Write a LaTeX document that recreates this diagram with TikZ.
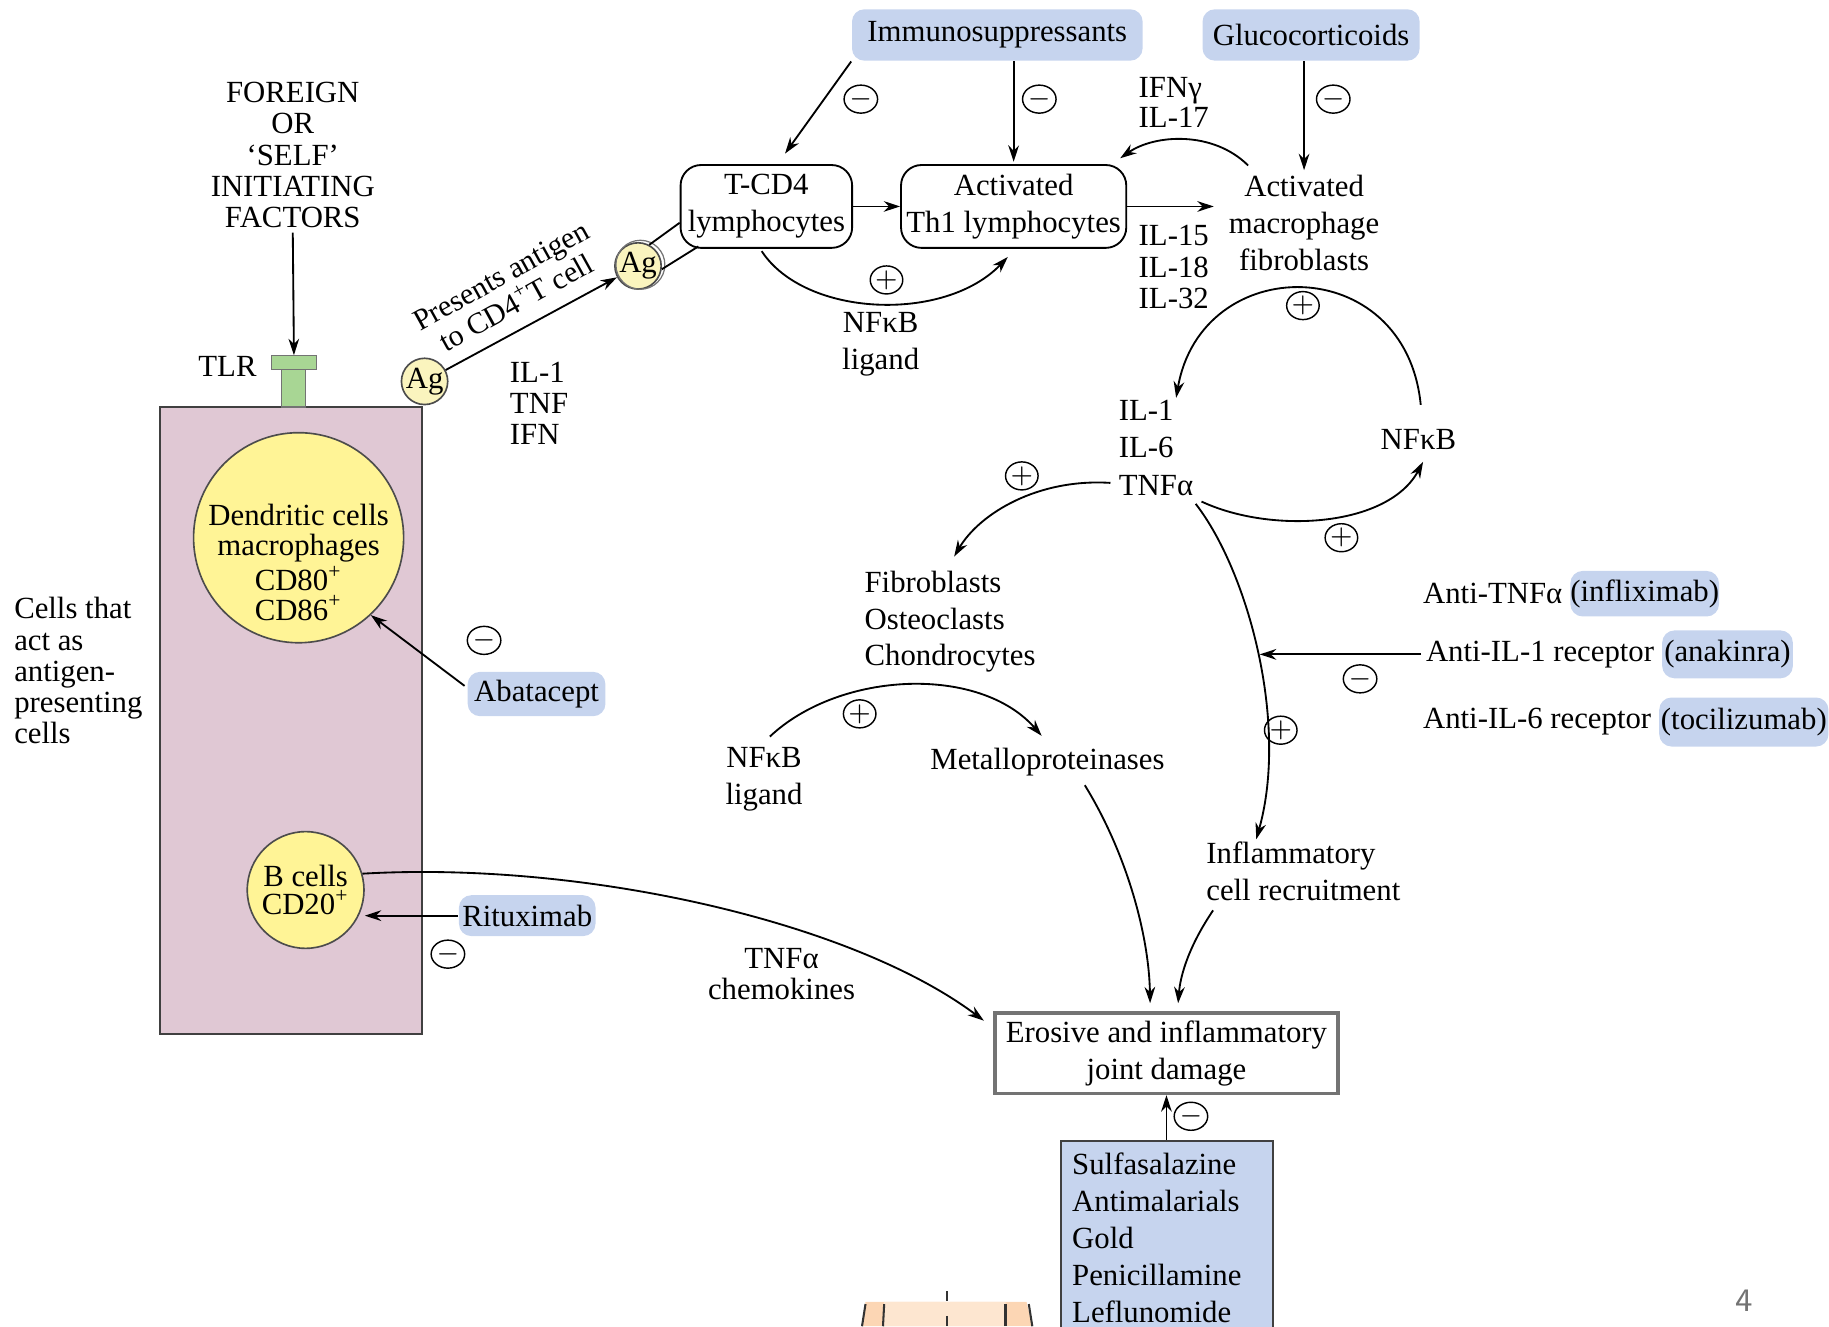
\documentclass[tikz,border=0pt]{standalone}
\usepackage{fontspec}
\setmainfont{Liberation Serif}
\usetikzlibrary{arrows.meta,calc,shapes.geometric}
\definecolor{drugblue}{RGB}{198,212,238}
\definecolor{apcpink}{RGB}{224,200,212}
\definecolor{cellyellow}{RGB}{255,244,150}
\definecolor{agyellow}{RGB}{250,244,190}
\definecolor{tlrgreen}{RGB}{168,214,148}
\definecolor{peach}{RGB}{252,214,180}
\definecolor{peachlt}{RGB}{253,230,208}
\begin{document}
\begin{tikzpicture}[x=0.01cm,y=-0.01cm,
  every node/.style={font=\fontsize{7.5}{9}\selectfont, inner sep=1pt},
  arr/.style={-{Stealth[length=4pt,width=2.6pt]}, line width=0.45pt},
  ln/.style={line width=0.45pt},
  sgn/.style={ellipse,draw,line width=0.35pt,inner sep=0pt,minimum width=0.2cm,minimum height=0.24cm,font=\fontsize{6}{6}\selectfont},
  drug/.style={fill=drugblue,rounded corners=3pt,inner sep=0pt},
  cellbox/.style={draw,rounded corners=5pt,align=center,line width=0.45pt},
  tight/.style={font=\fontsize{7.5}{7.6}\selectfont},
]
\useasboundingbox (0,0) rectangle (1568,1137);

% ---------- top row ----------
\node[drug,minimum width=2.49cm,minimum height=0.44cm] (imm) at (855,30) {Immunosuppressants};
\node[drug,minimum width=1.86cm,minimum height=0.44cm] (glu) at (1124,30) {Glucocorticoids};
\node[cellbox,minimum width=1.47cm,minimum height=0.71cm] (tcd4) at (657,177) {T-CD4\\lymphocytes};
\node[cellbox,minimum width=1.93cm,minimum height=0.71cm] (th1) at (869,177) {Activated\\Th1 lymphocytes};
\node[align=center] (mac) at (1118,191) {Activated\\macrophage\\fibroblasts};
\node[align=left,anchor=west,font=\fontsize{7.5}{7.2}\selectfont] (ifn) at (972,88) {IFNγ\\IL-17};
\node[align=left,anchor=west,font=\fontsize{7.5}{7.7}\selectfont] (il15) at (972,229) {IL-15\\IL-18\\IL-32};
\node[align=center] (nfl1) at (755,295) {NFκB\\ligand};

% ---------- APC column ----------
\node[align=center,tight] (foreign) at (251,133) {FOREIGN\\OR\\‘SELF’\\INITIATING\\FACTORS};
\node (tlrlbl) at (195,314) {TLR};
\node[draw=black!75,fill=apcpink,minimum width=2.25cm,minimum height=5.37cm,line width=0.5pt] (apc) at (249.5,617.5) {};
\draw[fill=tlrgreen,draw=black!55,line width=0.3pt] (241,317) rectangle (262,349);
\node[fill=tlrgreen,draw=black!55,line width=0.3pt,minimum width=0.38cm,minimum height=0.12cm,inner sep=0pt] (tlr) at (252,311) {};
\node[circle,draw=black!70,fill=cellyellow,minimum size=1.8cm,inner sep=0pt] (dc) at (256,461) {};
\node[align=center,font=\fontsize{7.5}{7.3}\selectfont] (dctext) at (256,482) {Dendritic cells\\macrophages\\CD80\textsuperscript{+}\\CD86\textsuperscript{+}};
\node[circle,draw=black!70,fill=cellyellow,minimum size=1.0cm,inner sep=0pt,align=center,font=\fontsize{7.5}{6.9}\selectfont] (bc) at (262,763) {B cells\\CD20\textsuperscript{+}};
\node[align=left,anchor=west,tight] (cells) at (8,575) {Cells that\\act as\\antigen-\\presenting\\cells};
\node[drug,minimum width=1.18cm,minimum height=0.38cm] (abat) at (460,595) {Abatacept};
\node[drug,minimum width=1.17cm,minimum height=0.35cm] (ritu) at (452,785) {Rituximab};

% ---------- antigen presentation ----------
\node[circle,draw=black!70,fill=agyellow,minimum size=0.37cm,inner sep=0pt] (ag1) at (364,327) {Ag};
\node[circle,draw=black!70,fill=agyellow,minimum size=0.37cm,inner sep=0pt] (ag2) at (547,228) {Ag};
\draw[black!55,line width=0.3pt] ($(ag2.center)+(2,-1)$) circle[radius=21];
\node[rotate=29,align=center,inner sep=0pt,font=\fontsize{7.3}{7.6}\selectfont] (pres) at (436,248) {Presents antigen\\to CD4\textsuperscript{+}T cell};
\node[align=left,anchor=west,font=\fontsize{7.5}{7.5}\selectfont] (cyt1) at (433,346) {IL-1\\TNF\\IFN};

% ---------- middle / right ----------
\node[anchor=west] (il1) at (955,352) {IL-1};
\node[anchor=west] (il6) at (955,384) {IL-6};
\node[anchor=west] (tnfa) at (955,416) {TNFα};
\node (nfkb) at (1216,377) {NFκB};
\node[align=left,anchor=west] (fib) at (737,533) {Fibroblasts\\Osteoclasts\\Chondrocytes};
\node[align=center] (nfl2) at (655,668) {NFκB\\ligand};
\node (mmp) at (898,653) {Metalloproteinases};
\node[align=left,anchor=west] (infl) at (1030,747) {Inflammatory\\cell recruitment};
\node[align=center,font=\fontsize{7.5}{7.7}\selectfont] (tnfc) at (670,835) {TNFα\\chemokines};

\node[drug,minimum width=1.24cm,minimum height=0.39cm] (inf) at (1410,509) {(infliximab)};
\node[anchor=east] (atnf) at ($(inf.west)+(-2,0)$) {Anti-TNFα};
\node[drug,minimum width=1.12cm,minimum height=0.41cm] (ana) at (1481,561) {(anakinra)};
\node[anchor=east] (ail1) at ($(ana.west)+(-2,0)$) {Anti-IL-1 receptor};
\node[drug,minimum width=1.45cm,minimum height=0.42cm] (toc) at (1495,619) {(tocilizumab)};
\node[anchor=east] (ail6) at ($(toc.west)+(-2,0)$) {Anti-IL-6 receptor};
\coordinate (hit) at (1080,561);

% ---------- bottom ----------
\node[draw=black!55,line width=0.8pt,minimum width=2.94cm,minimum height=0.69cm,align=center] (jd) at (1000,903) {Erosive and inflammatory\\joint damage};
\fill[peach] (739,1137) -- (742,1116) -- (880,1116) -- (885,1137) -- cycle;
\fill[peachlt] (757,1137) -- (758,1116) -- (862,1116) -- (863,1137) -- cycle;
\draw[black!80,line width=0.5pt] (739,1137) -- (742,1118);
\draw[black!80,line width=0.5pt] (757,1137) -- (758,1118);
\draw[black!80,line width=0.5pt] (862,1137) -- (862,1118);
\draw[black!80,line width=0.5pt] (885,1137) -- (882,1118);
\draw[black!80,line width=0.5pt] (812,1107) -- (812,1115) (812,1128) -- (812,1137);
\node[fill=drugblue,draw=black!75,line width=0.5pt,anchor=north west,minimum width=1.81cm,minimum height=1.75cm,inner sep=0pt] (drugs) at (909,977) {};
\node[anchor=north west,align=left] (druglist) at (915,984) {Sulfasalazine\\Antimalarials\\Gold\\Penicillamine\\Leflunomide};
\node[font=\fontsize{8}{8}\selectfont\sffamily,text=black!55] (pg) at (1495,1115) {4};

% ---------- signs ----------
\node[sgn] (m1) at (738,85) {$-$};
\node[sgn] (m2) at (891,85) {$-$};
\node[sgn] (m3) at (1143,85) {$-$};
\node[sgn] (m4) at (415,549) {$-$};
\node[sgn] (m5) at (384,818) {$-$};
\node[sgn] (m6) at (1166,582) {$-$};
\node[sgn] (m7) at (1021,957) {$-$};
\node[sgn] (p1) at (760,240) {$+$};
\node[sgn] (p2) at (1117,262) {$+$};
\node[sgn] (p3) at (876,408) {$+$};
\node[sgn] (p4) at (1150,461) {$+$};
\node[sgn] (p5) at (737,612) {$+$};
\node[sgn] (p6) at (1098,626) {$+$};

% ---------- connectors ----------
\draw[arr] (imm.south west) -- ($(tcd4.north)+(16,-9)$);
\draw[arr] (imm.south -| th1.north) -- ($(th1.north)+(0,-2)$);
\draw[arr] (glu.south -| mac.north) -- (mac.north);
\draw[arr] (tcd4) -- (th1);
\draw[arr,shorten >=2.5pt] (th1.east) -- (th1.east -| mac.west);
\draw[arr] ($(mac.north)+(-48,-4)$) .. controls (1040,112) and (990,115) .. ($(th1.north east)+(-6,-5)$);
\draw[arr] ($(tcd4.south)+(-4,2)$) .. controls (690,272) and (810,277) .. ($(th1.south)+(-5,7)$);

\draw[arr] (foreign.south) -- (tlr.north);
\draw[arr] (ag1) -- (ag2);
\draw[ln] (ag2.62) -- ($(tcd4.west)+(0,14)$);
\draw[ln] (ag2.-8) -- ($(tcd4.south west)+(16,-2)$);
\draw[arr] ($(abat.west)+(-2,-7)$) -- (dc.-47);
\draw[arr] (ritu.west) -- (ritu.west -| bc.east);
\draw[arr] (bc.16) .. controls (500,738) and (730,790) .. ($(jd.north west)+(-8,8)$);

\draw[arr] ($(nfkb.north)+(2,-17)$) .. controls (1205,215) and (1030,215) .. ($(il1.north east)+(-2,2)$);
\draw[arr] ($(tnfa.east)+(3,14)$) .. controls (1090,458) and (1190,452) .. ($(nfkb.south)+(4,6)$);
\draw[arr] ($(tnfa.west)+(-3,-2)$) .. controls (890,410) and (840,440) .. ($(fib.north west)+(81,-8)$);
\draw[arr] ($(tnfa.south east)+(-2,3)$) .. controls (1070,490) and (1105,620) .. ($(infl.north west)+(47,2)$);
\draw[arr] (ail1.west) -- (hit);
\draw[arr] ($(nfl2.north)+(5,-5)$) .. controls (720,575) and (840,570) .. ($(mmp.north)+(-5,-6)$);
\draw[arr] ($(mmp.south)+(32,4)$) .. controls (965,730) and (985,800) .. ($(jd.north)+(-14,-7)$);
\draw[arr] ($(infl.south west)+(10,4)$) .. controls (1020,810) and (1012,835) .. ($(jd.north)+(10,-7)$);
\draw[arr] (drugs.north -| jd.south) -- (jd.south);
\end{tikzpicture}
\end{document}
